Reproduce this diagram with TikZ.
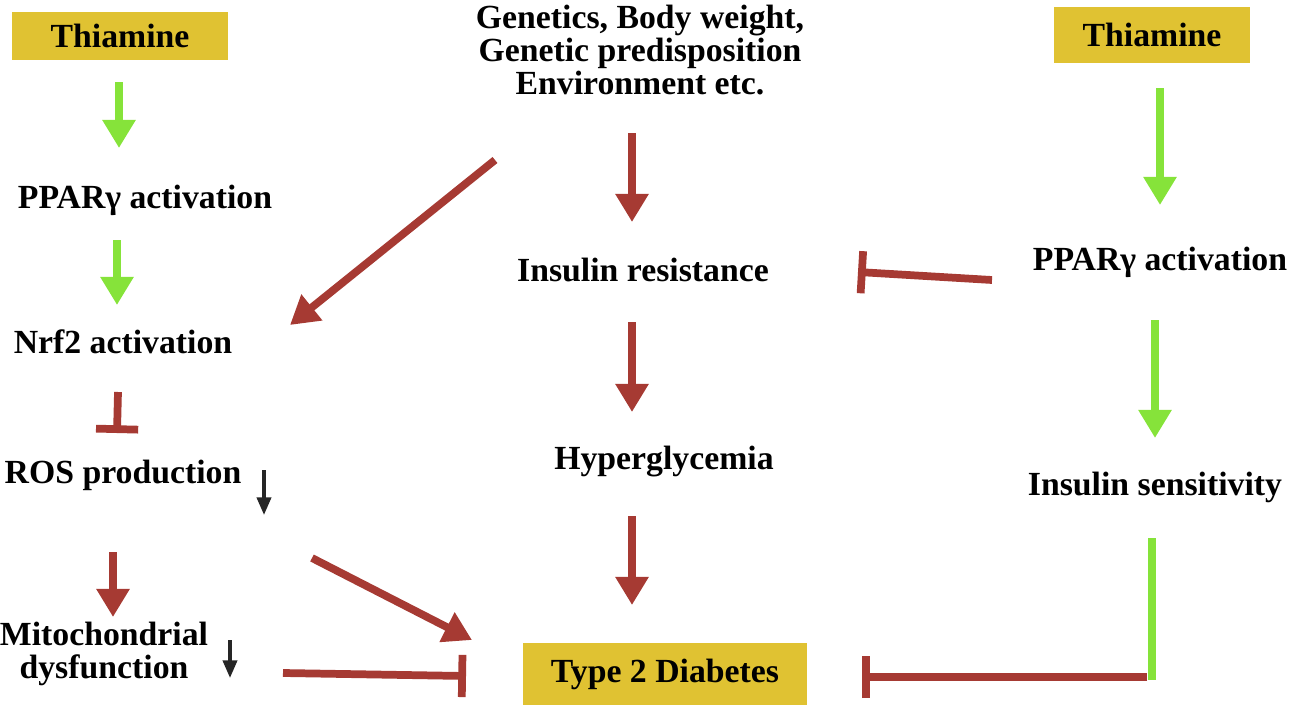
\documentclass[tikz,border=0pt]{standalone}
\usepackage{fontspec}
\setmainfont{Liberation Serif}
\usetikzlibrary{arrows.meta}
\definecolor{rd}{HTML}{A63A33}
\definecolor{gr}{HTML}{86E33A}
\definecolor{yl}{HTML}{E0C232}
\tikzset{
 txt/.style={font=\bfseries\fontsize{9.6}{9.5}\selectfont,align=center,inner sep=0pt},
 ybox/.style={txt,fill=yl},
 rarr/.style={draw=rd,line width=2.2pt,-{Triangle[length=8pt,width=9pt]}},
 garr/.style={draw=gr,line width=2.2pt,-{Triangle[length=8pt,width=9pt]}},
 rbar/.style={draw=rd,line width=2.2pt,-{Bar[width=12pt,line width=2.2pt]}},
 barr/.style={draw=black!85,line width=1pt,-{Triangle[length=5pt,width=4pt]}}
}
\begin{document}
\begin{tikzpicture}[x=0.01cm,y=-0.01cm]
\useasboundingbox (0,0) rectangle (1300,712);
\node[ybox,minimum width=2.15cm,minimum height=0.48cm] (t1) at (120,36) {Thiamine};
\node[ybox,minimum width=1.95cm,minimum height=0.56cm] (t2) at (1152,35) {Thiamine};
\node[ybox,minimum width=2.84cm,minimum height=0.62cm] (td) at (665,674) {Type 2 Diabetes};
\node[txt] (gen) at (640,50) {Genetics, Body weight,\\Genetic predisposition\\Environment etc.};
\node[txt] (p1) at (145,200) {PPARγ activation};
\node[txt] (nrf) at (123,342) {Nrf2 activation};
\node[txt] (ros) at (123,475) {ROS production};
\node[txt] (mit) at (104,654) {Mitochondrial\\dysfunction};
\node[txt] (ir) at (643,270) {Insulin resistance};
\node[txt] (hy) at (664,462) {Hyperglycemia};
\node[txt] (p2) at (1160,262) {PPARγ activation};
\node[txt] (is) at (1155,487) {Insulin sensitivity};
\coordinate (a1) at (264,470); \coordinate (a2) at (264,515);
\coordinate (b1) at (230,640); \coordinate (b2) at (230,678);
\draw[barr] (a1) -- (a2);
\draw[barr] (b1) -- (b2);
\draw[garr] (119,82) -- (119,148);
\draw[garr] (117,240) -- (117,305);
\draw[garr] (1160,88) -- (1160,205);
\draw[garr] (1155,320) -- (1155,438);
\draw[rarr] (495,160) -- (290,325);
\draw[rarr] (632,133) -- (632,222);
\draw[rarr] (632,322) -- (632,412);
\draw[rarr] (632,516) -- (632,605);
\draw[rarr] (113,552) -- (113,617);
\draw[rarr] (312,558) -- (472,640);
\draw[rbar] (118,392) -- (117,433);
\draw[rbar] (992,280) -- (858,272);
\draw[rbar] (283,673) -- (466,676);
\draw[draw=gr,line width=2.2pt] (1152,538) -- (1152,680);
\draw[rbar] (1147,677) -- (862,677);
\end{tikzpicture}
\end{document}
